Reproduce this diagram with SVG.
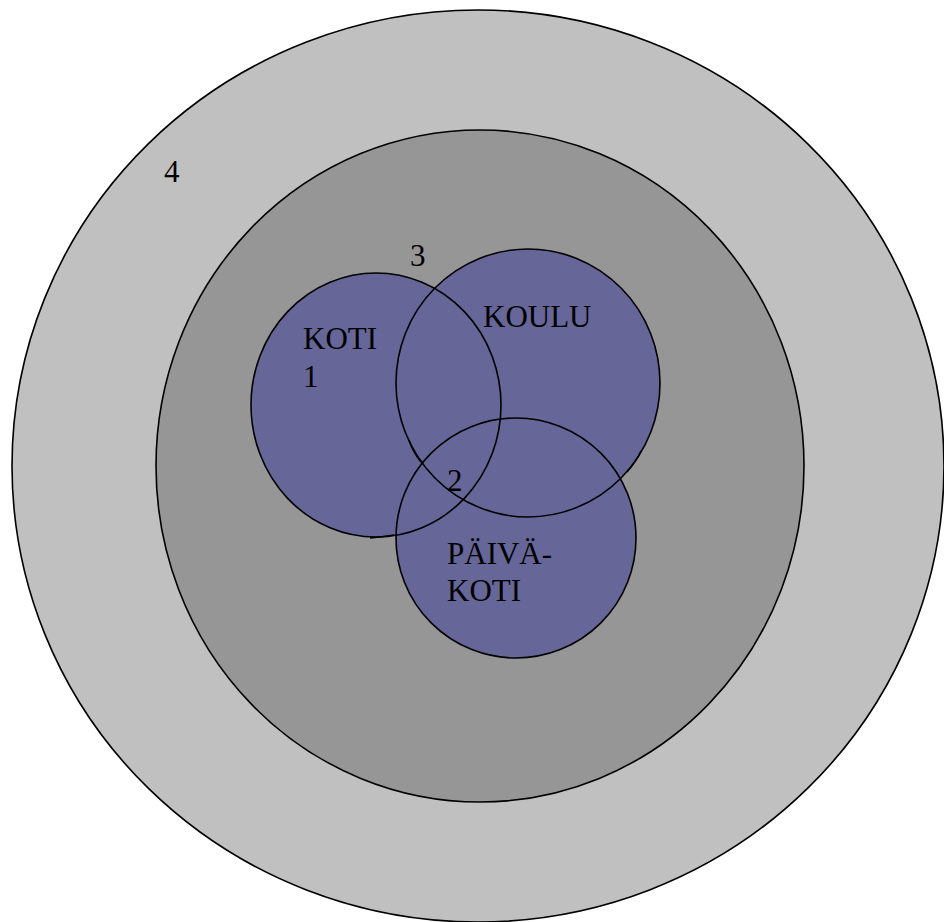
<svg xmlns="http://www.w3.org/2000/svg" width="944" height="922" viewBox="0 0 944 922">
<style>
.ln{fill:none;stroke:#000;stroke-width:1.6}
.c{fill:#666699}
text{font-family:"Liberation Serif","Times New Roman",serif;font-size:31px;fill:#000}
</style>
<rect width="944" height="922" fill="#fff"/>
<g id="ring4">
<ellipse cx="478" cy="466" rx="466" ry="456" fill="#c0c0c0" stroke="#000" stroke-width="1.6"/>
<text x="164" y="182">4</text>
</g>
<g id="ring3">
<ellipse cx="480" cy="466" rx="324" ry="336" fill="#969696" stroke="#000" stroke-width="1.6"/>
<text x="410" y="266">3</text>
</g>
<g id="koti">
<ellipse class="c" cx="376" cy="405" rx="125" ry="132"/>
</g>
<g id="koulu">
<ellipse class="c" cx="528" cy="383" rx="132" ry="134"/>
</g>
<g id="paivakoti">
<ellipse class="c" cx="516" cy="538" rx="120" ry="120"/>
</g>
<g id="outlines">
<ellipse class="ln" cx="376" cy="405" rx="125" ry="132"/>
<ellipse class="ln" cx="528" cy="383" rx="132" ry="134"/>
<ellipse class="ln" cx="516" cy="538" rx="120" ry="120"/>
<path class="ln" d="M409 440 Q413 452 421 462"/>
<path class="ln" d="M641 451 Q636 462 627 472"/>
<path class="ln" d="M370 538 Q382 537 394 535"/>
</g>
<g id="labels">
<text x="303" y="349">KOTI</text>
<text x="303" y="387">1</text>
<text x="483" y="327">KOULU</text>
<text x="447" y="491">2</text>
<text x="447" y="564">PÄIVÄ-</text>
<text x="447" y="601">KOTI</text>
</g>
</svg>
